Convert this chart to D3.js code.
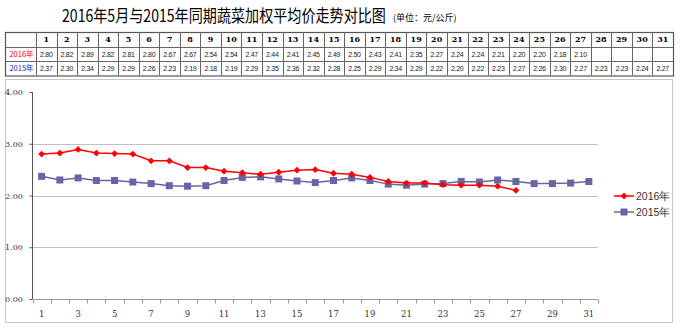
<!DOCTYPE html>
<html><head><meta charset="utf-8">
<script src="https://cdn.jsdelivr.net/npm/d3@7"></script>
<style>body{margin:0;background:#fff}svg{display:block}</style>
</head><body>
<script>
const days = d3.range(1, 32).map(String);
const series2016 = [2.80,2.82,2.89,2.82,2.81,2.80,2.67,2.67,2.54,2.54,2.47,2.44,2.41,2.45,2.49,2.50,2.43,2.41,2.35,2.27,2.24,2.24,2.21,2.20,2.20,2.18,2.10];
const series2015 = [2.37,2.30,2.34,2.29,2.29,2.26,2.23,2.19,2.18,2.19,2.29,2.35,2.36,2.32,2.28,2.25,2.29,2.34,2.29,2.22,2.20,2.22,2.23,2.27,2.26,2.30,2.27,2.23,2.23,2.24,2.27];
const seriesNames = ["2016年","2015年"];
const yTicks = [0,1,2,3,4];
const title = "2016年5月与2015年同期蔬菜加权平均价走势对比图";
const unit = "(单位：元/公斤)";

const W = 680, H = 328;
const red = "#ff0000", blue = "#6666a6";
const svg = d3.select("body").append("svg").attr("width", W).attr("height", H);

// Title (horizontally condensed via scale transform)
const tt = svg.append("text").attr("font-family", "'Noto Sans CJK SC', sans-serif")
  .attr("font-size", 17).attr("fill", "#000").text(title);
const tw = tt.node().getComputedTextLength();
tt.attr("transform", `translate(62,22) scale(${324 / tw},1)`);
const ut = svg.append("text").attr("font-family", "'Noto Sans CJK SC', sans-serif")
  .attr("font-size", 9).attr("fill", "#000").text(unit);
const uw = ut.node().getComputedTextLength();
ut.attr("transform", `translate(393,21) scale(${Math.min(1, 66 / uw)},1)`);

// Table
const tx0 = 5, tx1 = 36, tx2 = 673;
const rowsY = [32, 46.5, 61, 75.5];
const colX = d3.scaleLinear().domain([0, 31]).range([tx1, tx2]);
const tg = svg.append("g");
tg.append("rect").attr("x", tx0 + 0.5).attr("y", rowsY[0] + 0.5).attr("width", tx2 - tx0).attr("height", rowsY[3] - rowsY[0])
  .attr("fill", "none").attr("stroke", "#555").attr("stroke-width", 1.2);
rowsY.slice(1, 3).forEach(y => tg.append("line").attr("x1", tx0).attr("x2", tx2).attr("y1", Math.round(y) + 0.5).attr("y2", Math.round(y) + 0.5).attr("stroke", "#666"));
d3.range(0, 31).forEach(i => tg.append("line").attr("x1", Math.round(colX(i)) + 0.5).attr("x2", Math.round(colX(i)) + 0.5)
  .attr("y1", rowsY[0]).attr("y2", rowsY[3]).attr("stroke", "#666"));
const rowMid = i => (rowsY[i] + rowsY[i + 1]) / 2 + 3;
days.forEach((d, i) => {
  tg.append("text").attr("x", colX(i + 0.5)).attr("y", rowMid(0)).attr("text-anchor", "middle")
    .attr("font-family", "'DejaVu Serif', serif").attr("font-weight", "bold").attr("font-size", 8).text(d);
});
[series2016, series2015].forEach((s, r) => {
  tg.append("text").attr("x", (tx0 + tx1) / 2 + 1).attr("y", rowMid(r + 1)).attr("text-anchor", "middle")
    .attr("font-family", "'Noto Sans CJK SC', sans-serif").attr("font-size", 7.5).attr("fill", r === 0 ? red : "#2020c0").text(seriesNames[r]);
  s.forEach((v, i) => {
    tg.append("text").attr("x", colX(i + 0.5)).attr("y", rowMid(r + 1)).attr("text-anchor", "middle")
      .attr("font-family", "'Liberation Sans', sans-serif").attr("font-size", 7).attr("letter-spacing", -0.3).attr("fill", "#222").text(v.toFixed(2));
  });
});

// Chart box
svg.append("rect").attr("x", 5.5).attr("y", 79.5).attr("width", 667).attr("height", 243).attr("fill", "none").attr("stroke", "#c8c8c8");

const x = d3.scaleBand().domain(days).range([32.5, 598]);
const y = d3.scaleLinear().domain([0, 4]).range([299, 92]);
const cx = d => x(d) + x.bandwidth() / 2;

// gridlines
svg.append("g").selectAll("line").data(yTicks.filter(t => t > 0 && t < 4)).join("line")
  .attr("x1", 32.5).attr("x2", 598).attr("y1", d => Math.round(y(d)) + 0.5).attr("y2", d => Math.round(y(d)) + 0.5)
  .attr("stroke", "#c0c0c0");

// y axis
const ya = svg.append("g").attr("transform", "translate(32.5,0)")
  .call(d3.axisLeft(y).tickValues(yTicks).tickSize(3).tickFormat(d3.format(".2f")));
ya.select(".domain").attr("stroke", "#555").attr("d", `M0,${y(4)}V${y(0)}`);
ya.selectAll(".tick line").attr("stroke", "#555");
ya.selectAll(".tick text").attr("x", -27.5).attr("text-anchor", "start").attr("font-family", "'DejaVu Serif', serif")
  .attr("font-size", 8).attr("fill", "#333").attr("dy", "0.32em");

// x axis
const xa = svg.append("g").attr("transform", `translate(0,${y(0) + 0.5})`);
xa.append("line").attr("x1", 32.5).attr("x2", 598).attr("stroke", "#999");
xa.selectAll("line.tk").data(d3.range(0, 32)).join("line").attr("class", "tk")
  .attr("x1", i => Math.round(32.5 + i * x.step()) + 0.5).attr("x2", i => Math.round(32.5 + i * x.step()) + 0.5)
  .attr("y1", 0).attr("y2", 4).attr("stroke", "#999");
xa.selectAll("text").data(days.filter((d, i) => i % 2 === 0)).join("text")
  .attr("x", d => cx(d)).attr("y", 17).attr("text-anchor", "middle")
  .attr("font-family", "'DejaVu Serif', serif").attr("font-size", 8.5).attr("fill", "#333").text(d => d);

// lines
const line = d3.line().x((v, i) => cx(days[i])).y(v => y(v));
svg.append("path").datum(series2015).attr("d", line).attr("fill", "none").attr("stroke", blue).attr("stroke-width", 1.5);
svg.append("g").selectAll("rect").data(series2015).join("rect")
  .attr("x", (v, i) => cx(days[i]) - 3.5).attr("y", v => y(v) - 3.5).attr("width", 7).attr("height", 7).attr("fill", blue);
svg.append("path").datum(series2016).attr("d", line).attr("fill", "none").attr("stroke", red).attr("stroke-width", 1.5);
const diamond = d3.symbol().type(d3.symbolDiamond2).size(30);
svg.append("g").selectAll("path").data(series2016).join("path")
  .attr("transform", (v, i) => `translate(${cx(days[i])},${y(v)})`).attr("d", diamond).attr("fill", red);

// legend
const lg = svg.append("g");
[[red, 196, "d"], [blue, 212, "s"]].forEach(([c, ly, m], i) => {
  lg.append("line").attr("x1", 614).attr("x2", 634).attr("y1", ly).attr("y2", ly).attr("stroke", c).attr("stroke-width", 1.5);
  if (m === "d") lg.append("path").attr("transform", `translate(624,${ly})`).attr("d", diamond).attr("fill", c);
  else lg.append("rect").attr("x", 620.5).attr("y", ly - 3.5).attr("width", 7).attr("height", 7).attr("fill", c);
  lg.append("text").attr("x", 636).attr("y", ly + 4).attr("font-family", "'Liberation Sans', sans-serif").attr("font-size", 10.5)
    .attr("fill", "#333").text(seriesNames[i]);
});
</script>
</body></html>
